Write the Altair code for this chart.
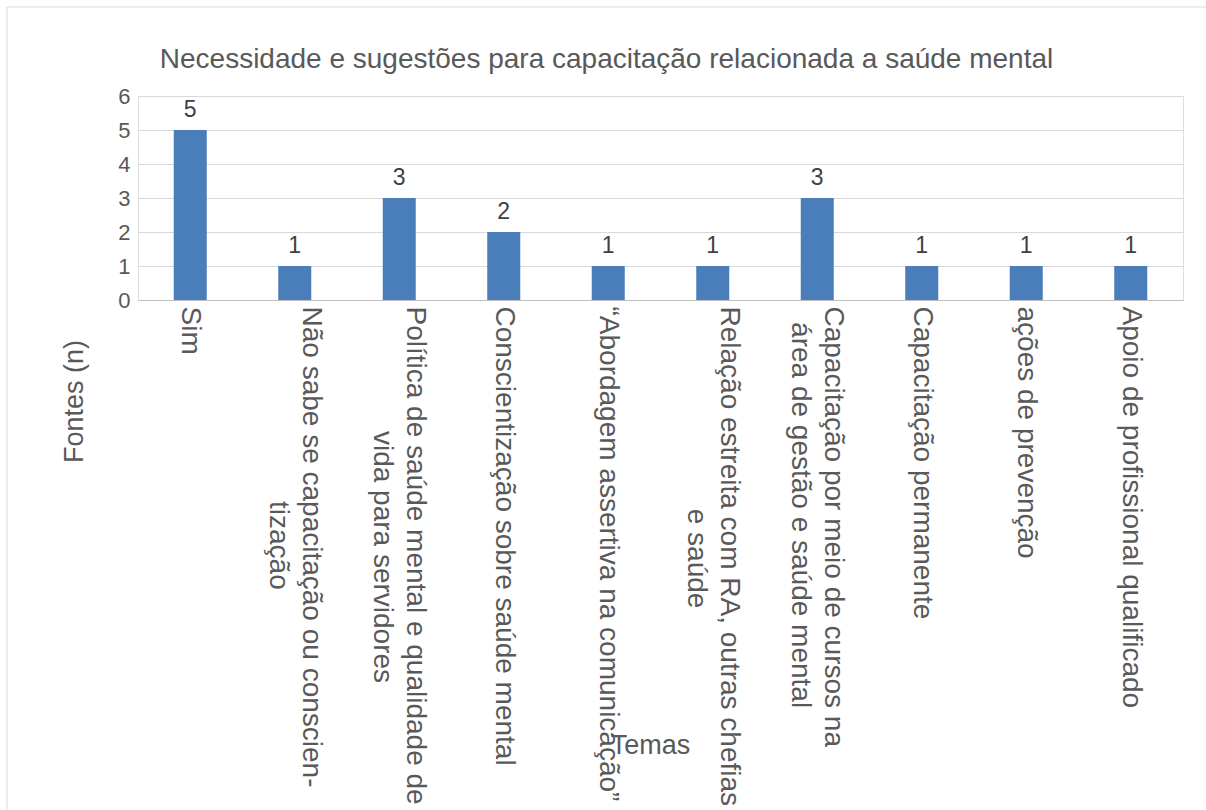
import altair as alt
import pandas as pd

# --- data ---
temas_linha1 = [
    "Sim",
    "Não sabe se capacitação ou conscien-",
    "Política de saúde mental e qualidade de",
    "Conscientização sobre saúde mental",
    "“Abordagem assertiva na comunicação”",
    "Relação estreita com RA, outras chefias",
    "Capacitação por meio de cursos na",
    "Capacitação permanente",
    "ações de prevenção",
    "Apoio de profissional qualificado",
]
temas_linha2 = [
    "",
    "tização",
    "vida para servidores",
    "",
    "",
    "e saúde",
    "área de gestão e saúde mental",
    "",
    "",
    "",
]
fontes = [5, 1, 3, 2, 1, 1, 3, 1, 1, 1]

# style: indentation (word joiner + non-breaking spaces) to centre the second label line
recuo_linha2 = [0, 25, 16, 0, 0, 26, 2, 0, 0, 0]

temas = [
    a if not b else a + "|" + "\u2060" + "\u00a0" * p + b
    for a, b, p in zip(temas_linha1, temas_linha2, recuo_linha2)
]
df = pd.DataFrame({"tema": temas, "n": fontes})

FONT = "Liberation Sans"
GRAY = "#595959"
W, H = 1045, 204

x = alt.X(
    "tema:N",
    sort=temas,
    scale=alt.Scale(paddingInner=0.684, paddingOuter=0.342),
    axis=alt.Axis(
        title="Temas",
        labelAngle=90,
        labelExpr="split(datum.label, '|')",
        labelLineHeight=33,
        labelFontSize=28,
        labelFont=FONT,
        labelColor=GRAY,
        labelPadding=6,
        labelOffset={"condition": {"test": "indexof(datum.value, '|') >= 0", "value": 16}, "value": 0},
        labelLimit=0,
        labelOverlap=False,
        ticks=False,
        domainColor="#bfbfbf",
        domainWidth=1,
        titleX=512,
        titleY=445,
        titleAlign="center",
        titleBaseline="middle",
        titleFontSize=27,
        titleFont=FONT,
        titleFontWeight="normal",
        titleColor=GRAY,
    ),
)

y = alt.Y(
    "n:Q",
    scale=alt.Scale(domain=[0, 6]),
    axis=alt.Axis(
        title="Fontes (n)",
        values=[0, 1, 2, 3, 4, 5, 6],
        tickCount=7,
        grid=True,
        gridColor="#d9d9d9",
        gridWidth=1,
        domain=False,
        ticks=False,
        labelOverlap=False,
        labelPadding=8,
        labelFontSize=22,
        labelFont=FONT,
        labelColor=GRAY,
        titleX=-64,
        titleY=305,
        titleAngle=270,
        titleAlign="center",
        titleBaseline="middle",
        titleFontSize=27,
        titleFont=FONT,
        titleFontWeight="normal",
        titleColor=GRAY,
    ),
)

borda = alt.Chart(alt.Data(values=[{"k": 1}])).mark_rect(
    fillOpacity=0, stroke="#d9d9d9", strokeWidth=1
).encode(
    x=alt.value(-131), x2=alt.value(W + 200),
    y=alt.value(-89), y2=alt.value(H + 800),
)

base = alt.Chart(df)
barras = base.mark_bar(color="#4a7ebb").encode(x=x, y=y)
rotulos = base.mark_text(
    dy=-13, baseline="alphabetic", fontSize=23, font=FONT, color="#404040"
).encode(x=x, y=y, text="n:Q")

chart = alt.layer(borda, barras, rotulos).properties(
    width=W,
    height=H,
    autosize=alt.AutoSizeParams(type="none"),
    padding={"left": 138, "top": 96, "right": 23, "bottom": 510},
    title=alt.TitleParams(
        text="Necessidade e sugestões para capacitação relacionada a saúde mental",
        fontSize=28,
        font=FONT,
        fontWeight="normal",
        color=GRAY,
        anchor="middle",
        dx=-54,
        offset=-89,
        baseline="alphabetic",
    ),
).configure_view(stroke=None).configure(background="white")

chart.save("out.html", embed_options={"renderer": "svg", "actions": False})
